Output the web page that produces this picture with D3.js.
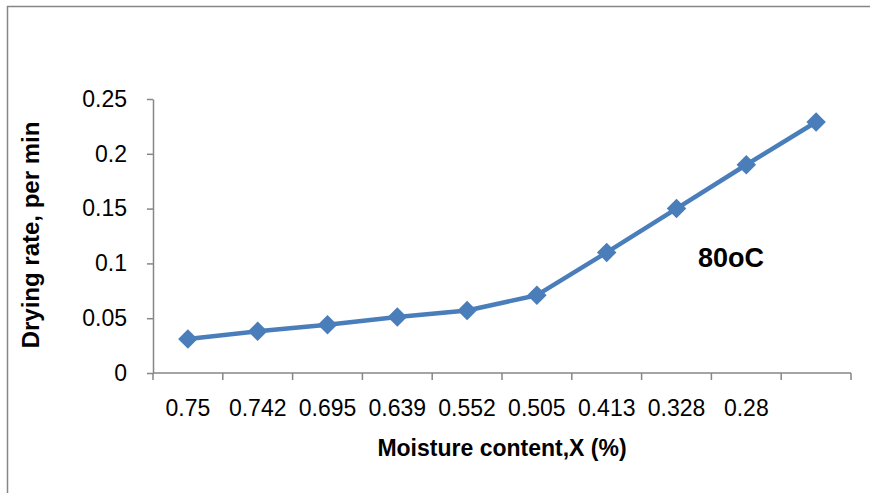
<!DOCTYPE html>
<html>
<head>
<meta charset="utf-8">
<script src="https://cdn.jsdelivr.net/npm/d3@7/dist/d3.min.js"></script>
<style>
  html, body { margin: 0; padding: 0; background: #fff; }
  svg { display: block; font-family: "Liberation Sans", Arial, sans-serif; }
</style>
</head>
<body>
<svg id="chart" width="870" height="493"></svg>
<script>
// Moisture content categories (x axis) and drying rate per min at 80 °C
const categories = ["0.75", "0.742", "0.695", "0.639", "0.552", "0.505", "0.413", "0.328", "0.28", ""];
const dryingRate = [0.031, 0.038, 0.044, 0.051, 0.057, 0.071, 0.110, 0.150, 0.190, 0.229];
const yTicks = [0, 0.05, 0.1, 0.15, 0.2, 0.25];
const yTickLabels = ["0", "0.05", "0.1", "0.15", "0.2", "0.25"];

const svg = d3.select("#chart");
const axisColor = "#868686";
const lineColor = "#4a7ebb";

// Outer chart frame
svg.append("rect")
  .attr("x", 7.5).attr("y", 6.5)
  .attr("width", 880).attr("height", 520)
  .attr("fill", "none")
  .attr("stroke", axisColor)
  .attr("stroke-width", 1.5);

const plot = { left: 153, right: 851, top: 99, bottom: 373 };

const x = d3.scaleBand()
  .domain(d3.range(categories.length))
  .range([plot.left, plot.right])
  .padding(0);

const y = d3.scaleLinear()
  .domain([0, 0.25])
  .range([plot.bottom, plot.top]);

// Y axis
const yAxis = d3.axisLeft(y)
  .tickValues(yTicks)
  .tickFormat((d, i) => yTickLabels[i])
  .tickSizeInner(6)
  .tickSizeOuter(0)
  .tickPadding(20);

const gy = svg.append("g")
  .attr("transform", `translate(${plot.left},0)`)
  .call(yAxis);

// X axis with tick marks on band boundaries
const boundaries = d3.range(categories.length + 1).map(i => plot.left + i * x.bandwidth());
const gx = svg.append("g")
  .attr("transform", `translate(0,${plot.bottom})`);
gx.append("line")
  .attr("x1", plot.left).attr("x2", plot.right)
  .attr("y1", 0).attr("y2", 0);
gx.selectAll("line.tick")
  .data(boundaries)
  .join("line")
  .attr("class", "tick")
  .attr("x1", d => d).attr("x2", d => d)
  .attr("y1", 0).attr("y2", 7);
gx.selectAll("text")
  .data(categories)
  .join("text")
  .attr("x", (d, i) => x(i) + x.bandwidth() / 2)
  .attr("y", 43)
  .attr("text-anchor", "middle")
  .text(d => d);

[gx, gy].forEach(g => {
  g.selectAll("line, path.domain")
    .attr("stroke", axisColor)
    .attr("stroke-width", 1.5);
  g.selectAll("text")
    .attr("fill", "#000")
    .attr("font-size", 23)
    .attr("font-family", "Liberation Sans, Arial, sans-serif");
});

// Series line
const line = d3.line()
  .x((d, i) => x(i) + x.bandwidth() / 2)
  .y(d => y(d));

svg.append("path")
  .datum(dryingRate)
  .attr("d", line)
  .attr("fill", "none")
  .attr("stroke", lineColor)
  .attr("stroke-width", 4.5)
  .attr("stroke-linejoin", "round");

// Diamond markers
const diamond = d3.symbol().type(d3.symbolSquare).size(190);
svg.selectAll("path.marker")
  .data(dryingRate)
  .join("path")
  .attr("class", "marker")
  .attr("d", diamond)
  .attr("transform", (d, i) => `translate(${x(i) + x.bandwidth() / 2},${y(d)}) rotate(45)`)
  .attr("fill", lineColor);

// Axis titles
svg.append("text")
  .attr("x", (plot.left + plot.right) / 2)
  .attr("y", 456)
  .attr("text-anchor", "middle")
  .attr("font-size", 23)
  .attr("font-weight", "bold")
  .text("Moisture content,X (%)");

svg.append("text")
  .attr("transform", "translate(39,235) rotate(-90)")
  .attr("text-anchor", "middle")
  .attr("font-size", 24)
  .attr("font-weight", "bold")
  .text("Drying rate, per min");

// Temperature annotation
svg.append("text")
  .attr("x", 698)
  .attr("y", 267)
  .attr("font-size", 27)
  .attr("font-weight", "bold")
  .text("80oC");
</script>
</body>
</html>
